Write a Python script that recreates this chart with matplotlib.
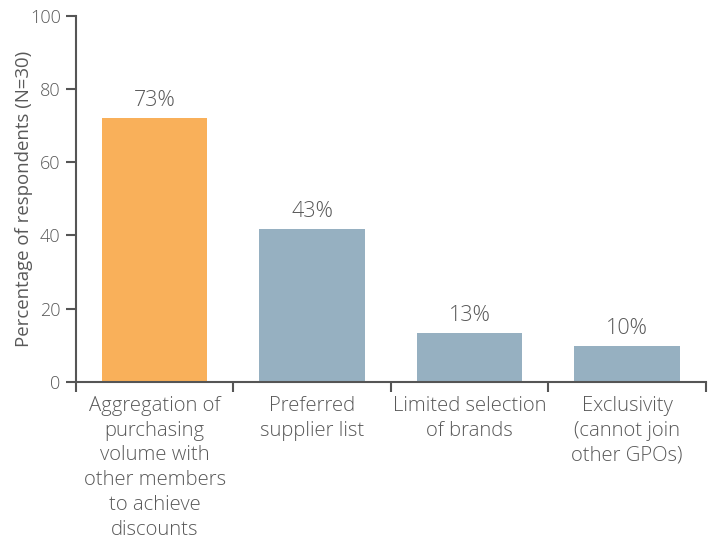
import matplotlib
matplotlib.use("Agg")
import matplotlib.pyplot as plt
import numpy as np

categories = [
    "Aggregation of\npurchasing\nvolume with\nother members\nto achieve\ndiscounts",
    "Preferred\nsupplier list",
    "Limited selection\nof brands",
    "Exclusivity\n(cannot join\nother GPOs)",
]
values = [72.2, 41.8, 13.3, 9.8]
value_labels = ["73%", "43%", "13%", "10%"]
y_ticks = [0, 20, 40, 60, 80, 100]
y_label = "Percentage of respondents (N=30)"

bar_colors = ["#F9B05A", "#96B0C1", "#96B0C1", "#96B0C1"]
text_color = "#595959"
axis_color = "#555555"

plt.rcParams['font.family'] = ['Open Sans', 'DejaVu Sans']
plt.rcParams['font.weight'] = 'light'

fig = plt.figure(figsize=(7.10, 5.41), dpi=100)
ax = fig.add_axes([0.107, 0.2945, 0.887, 0.6755])

x = np.arange(len(categories))
bars = ax.bar(x, values, width=0.67, color=bar_colors, zorder=2)

for xi, v, lab in zip(x, values, value_labels):
    ax.annotate(lab, (xi, v), xytext=(0, 5), textcoords="offset points",
                ha="center", va="bottom", fontsize=15.5, color=text_color)

ax.set_xlim(-0.5, len(categories) - 0.5)
ax.set_ylim(0, 100)
ax.set_yticks(y_ticks)
ax.set_yticklabels([str(t) for t in y_ticks], fontsize=13, color=text_color)

ax.set_xticks(x)
ax.set_xticklabels(categories, fontsize=14.6, color=text_color, linespacing=1.33)
ax.tick_params(axis="x", which="major", length=0, pad=10)
ax.set_xticks(np.arange(-0.5, len(categories)), minor=True)
ax.tick_params(axis="x", which="minor", length=7, width=1.5, color=axis_color, direction="out")
ax.tick_params(axis="y", length=7, width=1.5, color=axis_color, direction="out", pad=4)

ax.set_ylabel(y_label, fontsize=13.4, color=text_color)
ax.yaxis.set_label_coords(-0.068, 0.5)

for s in ["top", "right"]:
    ax.spines[s].set_visible(False)
for s in ["left", "bottom"]:
    ax.spines[s].set_color(axis_color)
    ax.spines[s].set_linewidth(1.5)

fig.savefig("out.png", dpi=100)
